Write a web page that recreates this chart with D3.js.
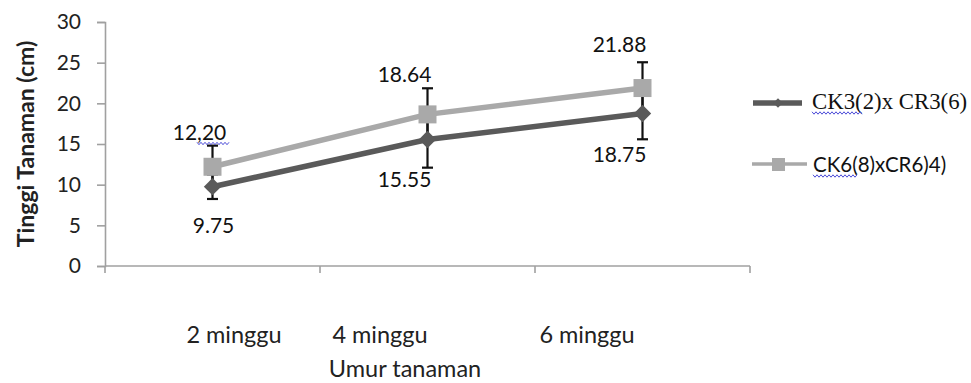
<!DOCTYPE html>
<html>
<head>
<meta charset="utf-8">
<script src="https://cdn.jsdelivr.net/npm/d3@7"></script>
<style>
  html, body { margin: 0; padding: 0; background: #fff; }
  svg { display: block; font-family: Lato, "Open Sans", sans-serif; }
</style>
</head>
<body>
<svg id="chart" width="971" height="383"></svg>
<script>
// Plant height (cm) at three plant ages, two crosses
const categories = ["2 minggu", "4 minggu", "6 minggu"];
const seriesNames = ["CK3(2)x CR3(6)", "CK6(8)xCR6)4)"];
const heightCK3 = [9.75, 15.55, 18.75];
const heightCK6 = [12.20, 18.64, 21.88];
const errCK3 = [1.51, 3.46, 3.17];
const errCK6 = [2.60, 3.21, 3.17];
const labelsCK3 = ["9.75", "15.55", "18.75"];
const labelsCK6 = ["12,20", "18.64", "21.88"];
const yTicks = [0, 5, 10, 15, 20, 25, 30];

const svg = d3.select("#chart");
const plot = { left: 105, right: 750, top: 22, bottom: 266 };
const sans = "Lato, 'Open Sans', sans-serif";

const x = d3.scaleBand().domain(categories).range([plot.left, plot.right]);
const y = d3.scaleLinear().domain([0, 30]).range([plot.bottom, plot.top]);
const cx = c => x(c) + x.bandwidth() / 2;

const axisColor = "#a0a0a0";

// Y axis
const yAxis = svg.append("g")
  .attr("transform", `translate(${plot.left},0)`)
  .call(d3.axisLeft(y).tickValues(yTicks).tickSize(8).tickPadding(16));
yAxis.select(".domain").attr("stroke", axisColor).attr("stroke-width", 1.6);
yAxis.selectAll(".tick line").attr("stroke", axisColor).attr("stroke-width", 1.6);
yAxis.selectAll(".tick text")
  .style("font-family", sans).style("font-size", "21px").attr("fill", "#222");

// X axis: tick marks at category boundaries, labels drawn separately
const xAxis = svg.append("g")
  .attr("transform", `translate(0,${plot.bottom})`)
  .call(d3.axisBottom(x).tickSize(0).tickFormat(""));
xAxis.select(".domain").remove();
xAxis.append("line")
  .attr("x1", plot.left).attr("x2", plot.right)
  .attr("stroke", axisColor).attr("stroke-width", 1.6);
const bounds = categories.map(c => x(c)).concat([x(categories[categories.length - 1]) + x.bandwidth()]);
xAxis.selectAll("line.bound").data(bounds).join("line")
  .attr("class", "bound")
  .attr("x1", d => d).attr("x2", d => d).attr("y1", 0).attr("y2", 7)
  .attr("stroke", axisColor).attr("stroke-width", 1.6);

// Category labels (hand-placed text boxes beneath the axis)
const catLabelDx = [21.5, -47.5, -55.5];
svg.append("g").selectAll("text").data(categories).join("text")
  .attr("x", (d, i) => cx(d) + catLabelDx[i])
  .attr("y", 343)
  .attr("text-anchor", "middle")
  .style("font-size", "23.5px").attr("fill", "#222")
  .text(d => d);

// Axis titles
svg.append("text")
  .attr("x", 405).attr("y", 377)
  .attr("text-anchor", "middle")
  .style("font-size", "23.5px").attr("fill", "#222")
  .text("Umur tanaman");

svg.append("text")
  .attr("transform", "translate(34,144) rotate(-90)")
  .attr("text-anchor", "middle")
  .style("font-weight", "bold")
  .style("font-size", "23px").attr("fill", "#222")
  .text("Tinggi Tanaman (cm)");

// Series
const series = [
  { name: seriesNames[0], values: heightCK3, err: errCK3, labels: labelsCK3,
    color: "#5a5a5a", marker: "diamond",
    labelDx: [1, -23, -23], labelDy: [46, 47.5, 48.5] },
  { name: seriesNames[1], values: heightCK6, err: errCK6, labels: labelsCK6,
    color: "#a9a9a9", marker: "square",
    labelDx: [-13, -23, -23], labelDy: [-27, -32, -36] }
];

const line = d3.line().x((d, i) => cx(categories[i])).y(d => y(d));

series.forEach(s => {
  svg.append("path")
    .datum(s.values)
    .attr("d", line)
    .attr("fill", "none")
    .attr("stroke", s.color)
    .attr("stroke-width", 5.5)
    .attr("stroke-linejoin", "round");
});

// Error bars
series.forEach(s => {
  const g = svg.append("g").attr("stroke", "#111").attr("stroke-width", 2.2);
  s.values.forEach((v, i) => {
    const px = cx(categories[i]);
    const lo = y(v - s.err[i]), hi = y(v + s.err[i]);
    g.append("line").attr("x1", px).attr("x2", px).attr("y1", lo).attr("y2", hi);
    g.append("line").attr("x1", px - 5.5).attr("x2", px + 5.5).attr("y1", lo).attr("y2", lo);
    g.append("line").attr("x1", px - 5.5).attr("x2", px + 5.5).attr("y1", hi).attr("y2", hi);
  });
});

// Markers
series.forEach(s => {
  s.values.forEach((v, i) => {
    const px = cx(categories[i]), py = y(v);
    if (s.marker === "square") {
      svg.append("rect")
        .attr("x", px - 9).attr("y", py - 9).attr("width", 18).attr("height", 18)
        .attr("fill", s.color);
    } else {
      svg.append("path")
        .attr("transform", `translate(${px},${py}) rotate(45)`)
        .attr("d", d3.symbol().type(d3.symbolSquare).size(150)())
        .attr("fill", s.color);
    }
  });
});

// Data labels
series.forEach(s => {
  svg.append("g").selectAll("text").data(s.values).join("text")
    .attr("x", (d, i) => cx(categories[i]) + s.labelDx[i])
    .attr("y", (d, i) => y(d) + s.labelDy[i])
    .attr("text-anchor", "middle")
    .style("font-size", "21px")
    .attr("fill", "#111")
    .text((d, i) => s.labels[i]);
});

// Wavy spell-check underline
function squiggle(x0, x1, yy) {
  const pts = [];
  for (let k = 0, xx = x0; xx <= x1; xx += 2, k++) pts.push([xx, yy + (k % 2 ? 1.2 : -1.2)]);
  svg.append("path").attr("d", d3.line()(pts))
    .attr("fill", "none").attr("stroke", "#4b4bd8").attr("stroke-width", 1);
}
squiggle(197, 229, 143.5);

// Legend
const legend = svg.append("g");
// first entry
legend.append("line").attr("x1", 753).attr("x2", 802).attr("y1", 103).attr("y2", 103)
  .attr("stroke", series[0].color).attr("stroke-width", 5.5);
legend.append("path")
  .attr("transform", "translate(778,103) rotate(45)")
  .attr("d", d3.symbol().type(d3.symbolSquare).size(45)())
  .attr("fill", series[0].color);
legend.append("text").attr("x", 812).attr("y", 109)
  .style("font-family", "'Liberation Serif', 'DejaVu Serif', serif")
  .style("font-size", "22.8px").attr("fill", "#111")
  .text(series[0].name);
squiggle(812, 863, 113);
// second entry
legend.append("line").attr("x1", 752).attr("x2", 807).attr("y1", 164).attr("y2", 164)
  .attr("stroke", series[1].color).attr("stroke-width", 3.5);
legend.append("rect").attr("x", 772).attr("y", 158).attr("width", 13).attr("height", 13)
  .attr("fill", series[1].color);
legend.append("text").attr("x", 813).attr("y", 172)
  .style("font-size", "20.5px").attr("fill", "#111")
  .text(series[1].name);
squiggle(813, 857, 176);
</script>
</body>
</html>
